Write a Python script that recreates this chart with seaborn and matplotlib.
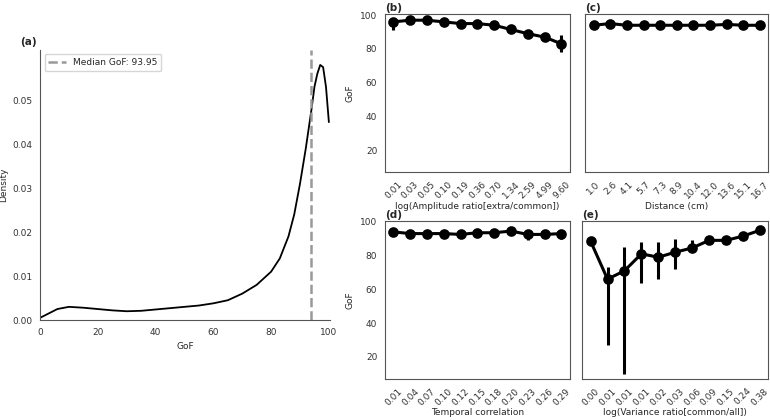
import numpy as np
import pandas as pd
import seaborn as sns
import matplotlib.pyplot as plt

sns.set_style('white')

# (a) density curve of GoF
kde_x = [0, 3, 6, 10, 15, 20, 25, 30, 35, 40, 45, 50, 55, 60, 65, 70, 75, 80, 83, 86, 88, 90, 92, 94, 95, 96, 97, 98, 99, 100]
kde_y = [0.0005, 0.0015, 0.0025, 0.003, 0.0028, 0.0025, 0.0022, 0.002, 0.0021, 0.0024, 0.0027, 0.003, 0.0033, 0.0038, 0.0045, 0.006, 0.008, 0.011, 0.014, 0.019, 0.024, 0.031, 0.039, 0.048, 0.053, 0.056, 0.058, 0.0575, 0.053, 0.045]
median_gof = 93.95
a_yticks = [0.0, 0.01, 0.02, 0.03, 0.04, 0.05]

b_labels = ['0.01', '0.03', '0.05', '0.10', '0.19', '0.36', '0.70', '1.34', '2.59', '4.99', '9.60']
b_mean = [96, 97, 97, 96, 95, 95, 94, 91.5, 89, 87, 83]
b_lo = [91, 96, 96, 95, 94, 94, 93, 90.5, 88, 86, 78]
b_hi = [98, 98, 98, 97, 96, 96, 95, 92.5, 90, 88, 88]

c_labels = ['1.0', '2.6', '4.1', '5.7', '7.3', '8.9', '10.4', '12.0', '13.6', '15.1', '16.7']
c_mean = [94, 95, 94, 94, 94, 94, 94, 94, 94.5, 94, 94]
c_lo = [93, 94, 93, 93, 93, 93, 93, 93, 93.5, 93, 93]
c_hi = [95, 96, 95, 95, 95, 95, 95, 95, 95.5, 95, 95]

d_labels = ['0.01', '0.04', '0.07', '0.10', '0.12', '0.15', '0.18', '0.20', '0.23', '0.26', '0.29']
d_mean = [94, 93, 93, 93, 92.5, 93.5, 93.5, 94.5, 92.5, 92.5, 93]
d_lo = [93, 92, 92, 92, 91.5, 92.5, 92.5, 93.5, 89, 91.5, 90]
d_hi = [95, 94, 94, 94, 93.5, 94.5, 94.5, 95.5, 94, 93.5, 94]

e_labels = ['0.00', '0.01', '0.01', '0.01', '0.02', '0.03', '0.06', '0.09', '0.15', '0.24', '0.38']
e_mean = [88.5, 66, 71, 81, 79, 82, 84.5, 89, 89, 91.5, 95]
e_lo = [87.5, 27, 10, 64, 66, 72, 82, 88, 88, 90.5, 94]
e_hi = [89.5, 73, 85, 88, 88, 90, 89, 90, 90, 92.5, 96]

FS = 6.5

fig = plt.figure(figsize=(7.7, 4.2), dpi=100)
ax_a = fig.add_axes([0.052, 0.238, 0.377, 0.643])
ax_b = fig.add_axes([0.50, 0.59, 0.24, 0.376])
ax_c = fig.add_axes([0.76, 0.59, 0.238, 0.376])
ax_d = fig.add_axes([0.50, 0.098, 0.24, 0.376])
ax_e = fig.add_axes([0.756, 0.098, 0.242, 0.376])

for ax in [ax_a, ax_b, ax_c, ax_d, ax_e]:
    for s in ax.spines.values():
        s.set_edgecolor('#555555')
        s.set_linewidth(0.8)
    ax.tick_params(labelsize=FS, colors='#333333', pad=2)

sns.lineplot(x=kde_x, y=kde_y, ax=ax_a, color='black', linewidth=1.3)
ax_a.axvline(median_gof, color='#999999', linestyle='--', linewidth=1.8,
             label=f'Median GoF: {median_gof:.2f}')
ax_a.set_xlim(0, 100.5)
ax_a.set_ylim(0, 0.0614)
ax_a.set_yticks(a_yticks)
sns.despine(ax=ax_a)
ax_a.set_xlabel('GoF', fontsize=FS)
ax_a.set_ylabel('Density', fontsize=FS, labelpad=3)
ax_a.legend(loc='upper left', fontsize=FS)
ax_a.text(-0.07, 1.02, '(a)', transform=ax_a.transAxes, fontsize=7.5, fontweight='bold')

panels = [
    (ax_b, '(b)', b_labels, b_mean, b_lo, b_hi, 'log(Amplitude ratio[extra/common])'),
    (ax_c, '(c)', c_labels, c_mean, c_lo, c_hi, 'Distance (cm)'),
    (ax_d, '(d)', d_labels, d_mean, d_lo, d_hi, 'Temporal correlation'),
    (ax_e, '(e)', e_labels, e_mean, e_lo, e_hi, 'log(Variance ratio[common/all])'),
]
for ax, tag, labels, mean, lo, hi, xlabel in panels:
    pos = list(range(len(labels)))
    df = pd.DataFrame({'pos': pos, 'GoF': mean})
    ax.vlines(pos, lo, hi, color='black', linewidth=2.2)
    sns.pointplot(data=df, x='pos', y='GoF', ax=ax, color='black',
                  markersize=6, linewidth=2.2, errorbar=None)
    ax.set_xticks(pos)
    ax.set_xticklabels(labels, rotation=45, fontsize=FS)
    ax.set_ylim(7, 100.5)
    ax.set_yticks([20, 40, 60, 80, 100])
    ax.set_xlabel(xlabel, fontsize=FS, labelpad=1)
    ax.text(0.0, 1.02, tag, transform=ax.transAxes, fontsize=7.5, fontweight='bold')
    if ax in (ax_b, ax_d):
        ax.set_ylabel('GoF', fontsize=FS)
    else:
        ax.set_ylabel('')
        ax.set_yticklabels([])

fig.savefig('out.png', dpi=100)
